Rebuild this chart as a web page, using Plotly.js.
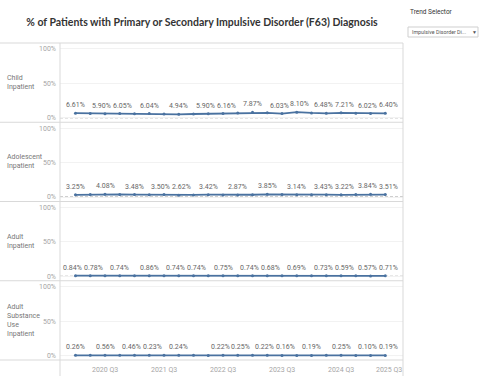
<!DOCTYPE html>
<html>
<head>
<meta charset="utf-8">
<script src="https://cdn.plot.ly/plotly-3.0.1.min.js"></script>
<style>html,body{margin:0;padding:0;background:#fff;}#chart{width:480px;height:387px;}</style>
</head>
<body>
<div id="chart"></div>
<script>
// ---- data ----
const quarters = ['2020 Q1','2020 Q2','2020 Q3','2020 Q4','2021 Q1','2021 Q2','2021 Q3','2021 Q4',
  '2022 Q1','2022 Q2','2022 Q3','2022 Q4','2023 Q1','2023 Q2','2023 Q3','2023 Q4',
  '2024 Q1','2024 Q2','2024 Q3','2024 Q4','2025 Q1','2025 Q2'];
const tickLabels = ['2020 Q3','2021 Q3','2022 Q3','2023 Q3','2024 Q3','2025 Q3'];
const rowNames = ['Child<br>Inpatient','Adolescent<br>Inpatient','Adult<br>Inpatient','Adult<br>Substance<br>Use<br>Inpatient'];

const child = [6.61,6.30,5.90,6.05,5.70,6.04,5.40,4.94,5.50,5.90,6.16,6.80,7.87,7.20,6.03,8.10,7.00,6.48,7.21,6.60,6.02,6.40];
const childLabeled = [0,2,3,5,7,9,10,12,14,15,17,18,20,21];

const adolescent = [3.25,3.60,4.08,3.80,3.48,3.20,3.50,2.62,3.00,3.42,3.10,2.87,3.30,3.85,3.50,3.14,3.30,3.43,3.22,3.50,3.84,3.51];
const adolescentLabeled = [0,2,4,6,7,9,11,13,15,17,18,20,21];

const adult = [0.84,0.78,0.80,0.74,0.80,0.86,0.78,0.74,0.74,0.72,0.75,0.70,0.74,0.68,0.72,0.69,0.66,0.73,0.59,0.63,0.57,0.71];
const adultLabeled = [0,1,3,5,7,8,10,12,13,15,17,18,20,21];

const adultSud = [0.26,0.35,0.56,0.50,0.46,0.23,0.25,0.24,0.22,0.20,0.22,0.25,0.22,0.22,0.16,0.18,0.19,0.22,0.25,0.15,0.10,0.19];
const adultSudLabeled = [0,2,4,5,7,10,11,13,14,16,18,20,21];

const yTickVals = [0,50,100];
const yTickText = ['0%','50%','100%'];

// ---- build ----
function qIndex(s){ const p = s.split(' Q'); return (+p[0]-2020)*4 + (+p[1]-1); }
const xs = quarters.map(qIndex);
const series = [[child,childLabeled],[adolescent,adolescentLabeled],[adult,adultLabeled],[adultSud,adultSudLabeled]];
const lineColor = '#4a72a0';
const smallFamily = 'Roboto';
const smallFont = 'Roboto, "Liberation Sans", Arial, sans-serif';
const labelSize = 7;

const W = 480, H = 387, ml = 60, mr = 77, mt = 43, mb = 27;
const pw = W-ml-mr, ph = H-mt-mb;
const leftX = -ml/pw;
const xRange = [-1.05, 22.2];
const toPx = x => (x - xRange[0])/(xRange[1]-xRange[0])*pw;

const ctx = document.createElement('canvas').getContext('2d');
function textW(t, size){ ctx.font = size+'px '+smallFamily; return ctx.measureText(t).width; }

// spread labels horizontally so they do not overlap (like the label placement of the original)
function spread(centers, widths, gap){
  const c = centers.slice();
  for (let it=0; it<300; it++){
    for (let i=0;i<c.length-1;i++){
      const ov = (c[i]+widths[i]/2+gap) - (c[i+1]-widths[i+1]/2);
      if (ov>0){ c[i]-=ov/2; c[i+1]+=ov/2; }
    }
    for (let i=0;i<c.length;i++){
      c[i] = Math.max(widths[i]/2, Math.min(pw - widths[i]/2, c[i]));
    }
  }
  return c;
}

const traces = [];
const annotations = [];
series.forEach(([vals,lab],r)=>{
  const yref = r===0 ? 'y' : 'y'+(r+1);
  traces.push({
    x: xs, y: vals, mode: 'lines+markers', type: 'scatter',
    xaxis: 'x', yaxis: yref,
    line: {color: lineColor, width: 1.8},
    marker: {color: lineColor, size: 3},
    cliponaxis: false, hoverinfo: 'skip', showlegend: false
  });
  const idx = lab.slice().sort((a,b)=>a-b);
  const texts = idx.map(i=> vals[i].toFixed(2)+'%');
  const widths = texts.map(t=> textW(t, labelSize));
  const base = idx.map(i=> toPx(xs[i]));
  const placed = spread(base, widths, 2);
  idx.forEach((i,k)=>{
    annotations.push({xref:'x', yref: yref, x: xs[i], y: vals[i], text: texts[k],
      showarrow:false, xanchor:'center', yanchor:'bottom', yshift: 2, xshift: placed[k]-base[k],
      font:{family: smallFont, size: labelSize, color:'#666'}});
  });
});

const layout = {
  width: W, height: H,
  margin: {l: ml, r: mr, t: mt, b: mb},
  paper_bgcolor: '#fff', plot_bgcolor: '#fff',
  showlegend: false,
  title: {text: '% of Patients with Primary or Secondary Impulsive Disorder (F63) Diagnosis',
    x: 202/W, xanchor: 'center', xref: 'container', y: 1-22/H, yanchor: 'middle', yref: 'container',
    font: {family: 'Lato, "Open Sans", sans-serif', size: 10.5, weight: 700, color: '#333'}},
  xaxis: {
    anchor: 'y4', range: xRange,
    tickvals: tickLabels.map(qIndex), ticktext: tickLabels,
    showticklabels: false,
    showgrid: false, zeroline: false, showline: false, ticks: '',
    fixedrange: true
  },
  shapes: [], annotations: annotations
};

// x tick labels, kept inside the plot's right edge
tickLabels.forEach(t=>{
  const w = textW(t, 7);
  const c = Math.min(toPx(qIndex(t)), pw - w/2 - 1);
  annotations.push({xref:'paper', yref:'paper', x: c/pw, y: 0, yshift: -4,
    xanchor:'center', yanchor:'top', showarrow:false, text: t,
    font:{family: smallFont, size: 7, color:'#a6a6a6'}});
});

for (let r=0;r<4;r++){
  const key = r===0 ? 'yaxis' : 'yaxis'+(r+1);
  layout[key] = {
    domain: [1-(r+1)/4, 1-r/4], anchor: 'x',
    range: [-6.5, 108.5], tickvals: yTickVals, ticktext: yTickText,
    showgrid: true, gridcolor: '#f2f2f2', gridwidth: 1,
    zeroline: false, showline: false, ticks: '', ticklabelstandoff: 3,
    tickfont: {family: smallFont, size: 7, color: '#a6a6a6'},
    fixedrange: true
  };
  layout.shapes.push({type:'line', layer:'below', xref:'paper', yref: r===0?'y':'y'+(r+1),
    x0:0, x1:1, y0:0, y1:0, line:{color:'#9a9a9a', width:1, dash:'3px,2px'}});
  annotations.push({xref:'paper', yref:'paper', x: leftX + 5/pw, y: 1-(r+0.5)/4,
    xanchor:'left', yanchor:'middle', align:'left', showarrow:false, text: rowNames[r],
    font:{family: smallFont, size: 7, color:'#777'}});
}
const border = '#d9d9d9';
[0,0.25,0.5,0.75,1].forEach(yv=>{
  layout.shapes.push({type:'line', xref:'paper', yref:'paper', x0:leftX, x1:1, y0:yv, y1:yv,
    line:{color:border, width:1}});
});
[0,1].forEach(xv=>{
  layout.shapes.push({type:'line', xref:'paper', yref:'paper', x0:xv, x1:xv, y0:1, y1:-16/ph,
    line:{color:border, width:1}});
});
// Trend selector control
annotations.push({xref:'paper', yref:'paper', x:(408-ml)/pw, y:1+(mt-12)/ph,
  xanchor:'left', yanchor:'middle', showarrow:false, text:'Trend Selector',
  font:{family: smallFont, size: 6.5, color:'#333'}});
layout.shapes.push({type:'rect', xref:'paper', yref:'paper', x0:(408-ml)/pw, x1:(478-ml)/pw,
  y0:1+(mt-37)/ph, y1:1+(mt-27)/ph, line:{color:'#cfcfcf', width:1}, fillcolor:'#fff'});
annotations.push({xref:'paper', yref:'paper', x:(410-ml)/pw, y:1+(mt-32)/ph,
  xanchor:'left', yanchor:'middle', showarrow:false, text:'Impulsive Disorder Di...',
  font:{family: smallFont, size: 5.3, color:'#555'}});
annotations.push({xref:'paper', yref:'paper', x:(474-ml)/pw, y:1+(mt-32)/ph,
  xanchor:'center', yanchor:'middle', showarrow:false, text:'▼',
  font:{family: smallFont, size: 5, color:'#555'}});

Plotly.newPlot('chart', traces, layout, {displayModeBar:false, staticPlot:true});
</script>
</body>
</html>
